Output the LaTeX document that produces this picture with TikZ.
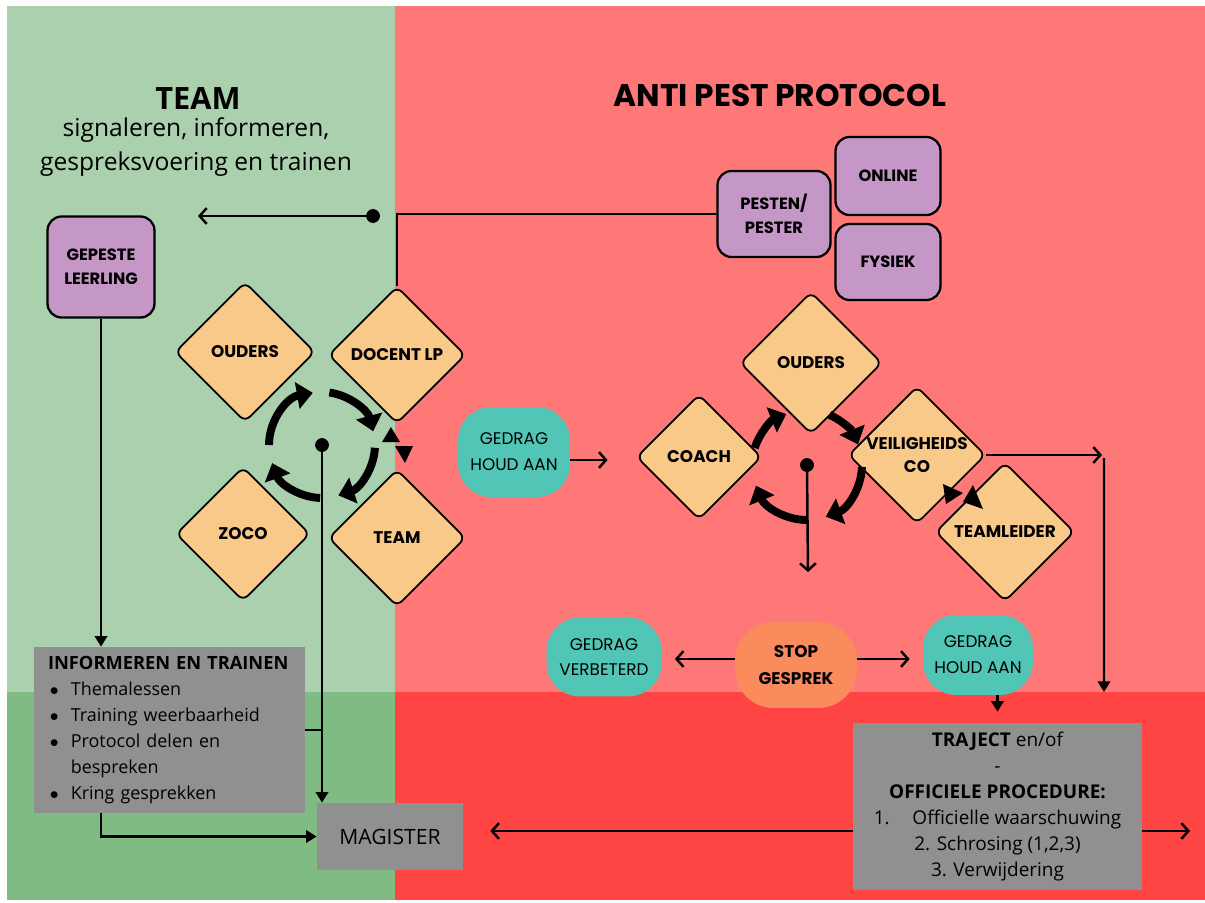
\documentclass[tikz,border=0pt]{standalone}
\usepackage{fontspec}
\setmainfont{Open Sans}
\newfontfamily\pop{Poppins}
\usetikzlibrary{shapes.geometric,arrows.meta}
\definecolor{lgreen}{HTML}{ABD0AD}
\definecolor{dgreen}{HTML}{80BB83}
\definecolor{lred}{HTML}{FF7878}
\definecolor{bred}{HTML}{FF4444}
\definecolor{sand}{HTML}{F9C98A}
\definecolor{lilac}{HTML}{C497C7}
\definecolor{tealc}{HTML}{52C6B6}
\definecolor{orangec}{HTML}{F98B5C}
\definecolor{boxgray}{HTML}{909090}
\newcommand\bul{\hspace*{1pt}\makebox[12pt][l]{$\bullet$}}
\begin{document}
\begin{tikzpicture}[x=0.02cm,y=-0.02cm,
    diam/.style={diamond,draw=black,line width=1pt,fill=sand,rounded corners=4pt,inner sep=0pt,align=center,font=\pop\bfseries\fontsize{9.6}{13.5}\selectfont},
    tag/.style={rectangle,draw=black,line width=1.3pt,fill=lilac,rounded corners=8pt,align=center,font=\pop\bfseries\fontsize{9.3}{13.5}\selectfont},
    pill/.style={rectangle,fill=tealc,rounded corners=19pt,align=center,font=\pop\fontsize{9.6}{14.7}\selectfont},
    graybox/.style={rectangle,fill=boxgray,inner sep=0pt},
    link/.style={line width=1.4pt,-{Straight Barb[length=4pt,width=9pt]}},
    push/.style={line width=1.4pt,-{Triangle[length=6pt,width=7pt]}},
    cyc/.style={line width=4.5pt,-{Triangle[length=9pt,width=15pt]}}]
\useasboundingbox (0,0) rectangle (1205,903);
\fill[white] (0,0) rectangle (1205,903);
\fill[lgreen] (7,6) rectangle (395,692);
\fill[lred] (395,6) rectangle (1205,692);
\fill[dgreen] (7,692) rectangle (395,900);
\fill[bred] (395,692) rectangle (1205,900);

\node[font=\bfseries\fontsize{17.5}{21}\selectfont] (teamtitle) at (198,98) {TEAM};
\node[font=\fontsize{14}{19.3}\selectfont,align=center] (teamsub) at (196,147) {signaleren, informeren,\\gespreksvoering en trainen};
\node[font=\pop\bfseries\fontsize{17.8}{20}\selectfont] (apptitle) at (780,95) {ANTI PEST PROTOCOL};

\node[tag,minimum width=2.14cm,minimum height=2.02cm] (gepeste) at (101,267) {GEPESTE\\LEERLING};
\node[tag,minimum width=2.26cm,minimum height=1.72cm] (pesten) at (774,214) {PESTEN/\\PESTER};
\node[tag,minimum width=2.1cm,minimum height=1.56cm] (online) at (888,176) {ONLINE};
\node[tag,minimum width=2.1cm,minimum height=1.52cm] (fysiek) at (888,262) {FYSIEK};

\node[diam,minimum size=2.8cm] (oudersl) at (245,352) {OUDERS};
\node[diam,minimum size=2.74cm] (docent) at (397,355) {DOCENT LP};
\node[diam,minimum size=2.68cm] (zoco) at (243,534) {ZOCO};
\node[diam,minimum size=2.74cm] (teaml) at (397,538) {TEAM};
\node[diam,minimum size=2.84cm] (oudersr) at (811,363) {OUDERS};
\node[diam,minimum size=2.5cm] (coach) at (699,457) {COACH};
\node[diam,minimum size=2.72cm] (veilig) at (917,455) {VEILIGHEIDS\\CO};
\node[diam,minimum size=2.78cm] (teamleider) at (1005,532) {TEAMLEIDER};

\node[pill,minimum width=2.24cm,minimum height=1.8cm] (gedragl) at (514,452) {GEDRAG\\HOUD AAN};
\node[pill,minimum width=2.3cm,minimum height=1.58cm] (verbeterd) at (604,657) {GEDRAG\\VERBETERD};
\node[pill,minimum width=2.2cm,minimum height=1.6cm] (gedragr) at (978,655) {GEDRAG\\HOUD AAN};
\node[pill,fill=orangec,rounded corners=22pt,font=\pop\bfseries\fontsize{9.6}{15}\selectfont,minimum width=2.44cm,minimum height=1.72cm] (stop) at (796,665) {STOP\\GESPREK};

\node[graybox,minimum height=3.32cm,inner xsep=0.28cm,text width=4.86cm,align=left,font=\fontsize{10.2}{14.8}\selectfont] (informeren) at (169.5,730) {\mbox{\fontsize{10.4}{14.8}\selectfont\textbf{INFORMEREN EN TRAINEN}}\\\bul Themalessen\\\bul Training weerbaarheid\\\bul Protocol delen en\\\hspace*{13pt}bespreken\\\bul Kring gesprekken};
\node[graybox,minimum width=5.78cm,minimum height=3.34cm,align=center,font=\fontsize{10.8}{14.7}\selectfont] (traject) at (997.5,806.5) {\textbf{TRAJECT} en/of\\-\\\textbf{OFFICIELE PROCEDURE:}\\1.\hspace{1.2em}Officielle waarschuwing\\2. Schrosing (1,2,3)\\3. Verwijdering};
\node[graybox,minimum width=2.92cm,minimum height=1.34cm,font=\fontsize{12}{14}\selectfont] (magister) at (390,836.5) {MAGISTER};

\coordinate (teamdot) at (322,445);
\coordinate (rightdot) at (807,465);
\coordinate (splitdot) at (373,216);
\coordinate (leftend) at (198,216);
\coordinate (rightend) at (808,572);
\coordinate (vright) at (1102,455);
\coordinate (vdown) at (1104,692);
\coordinate (exit) at (1190,831);

\draw[line width=1.4pt] (pesten.west) -- (pesten.west -| docent.north) -- (docent.north);
\draw [fill] (splitdot) circle [radius=3.7pt];
\draw[link] (splitdot) -- (leftend);
\draw[push] (gepeste.south) -- (gepeste.south |- informeren.north);
\draw[push] (informeren.south -| gepeste.south) |- (magister.west);
\draw[line width=1.4pt] (informeren.east) -- (informeren.east -| teamdot);
\draw [fill] (teamdot) circle [radius=3.7pt];
\draw[push] (teamdot) -- (teamdot |- magister.north);
\draw[link,shorten >=0.56cm] ([yshift=-0.16cm]gedragl.east) -- ([yshift=-0.16cm]gedragl.east -| coach.west);
\draw [fill] (rightdot) circle [radius=3.7pt];
\draw[link] (rightdot) -- (rightend);
\draw[link] (veilig.east) -- (vright);
\draw[push] ([shift={(0.04cm,-0.06cm)}]vright) -- (vdown);
\draw[link,shorten >=0.26cm] ([yshift=0.12cm]stop.west) -- ([yshift=0.12cm]stop.west -| verbeterd.east);
\draw[link,shorten >=0.26cm] ([yshift=0.12cm]stop.east) -- ([yshift=0.12cm]stop.east -| gedragr.west);
\draw[push,shorten >=0.22cm] (gedragr.south -| traject.north) -- (traject.north);
\draw[link,shorten >=0.54cm] (traject.west |- exit) -- (magister.east |- exit);
\draw[link] (traject.east |- exit) -- (exit);

\draw[cyc] ([shift={(180:1.06cm)}]teamdot) arc [start angle=180,end angle=100,radius=1.06cm];
\draw[cyc] ([shift={(82:1.06cm)}]teamdot) arc [start angle=82,end angle=15,radius=1.06cm];
\draw[cyc] ([shift={(-3:1.06cm)}]teamdot) arc [start angle=-3,end angle=-72,radius=1.06cm];
\draw[cyc] ([shift={(-92:1.06cm)}]teamdot) arc [start angle=-92,end angle=-160,radius=1.06cm];
\draw[cyc] ([shift={(162:1.1cm)}]rightdot) arc [start angle=162,end angle=112,radius=1.1cm];
\draw[cyc] ([shift={(66:1.1cm)}]rightdot) arc [start angle=66,end angle=22,radius=1.1cm];
\draw[cyc] ([shift={(-2:1.1cm)}]rightdot) arc [start angle=-2,end angle=-70,radius=1.1cm];
\draw[cyc] ([shift={(-90:1.1cm)}]rightdot) arc [start angle=-90,end angle=-158,radius=1.1cm];

\fill (391,427) -- (382,442) -- (400,442) -- cycle;
\fill (395,446) -- (413,446) -- (405,463) -- cycle;
\fill (943,484) -- (946,504) -- (963,493) -- cycle;
\fill (973,485) -- (963,502) -- (983,509) -- cycle;
\end{tikzpicture}
\end{document}
